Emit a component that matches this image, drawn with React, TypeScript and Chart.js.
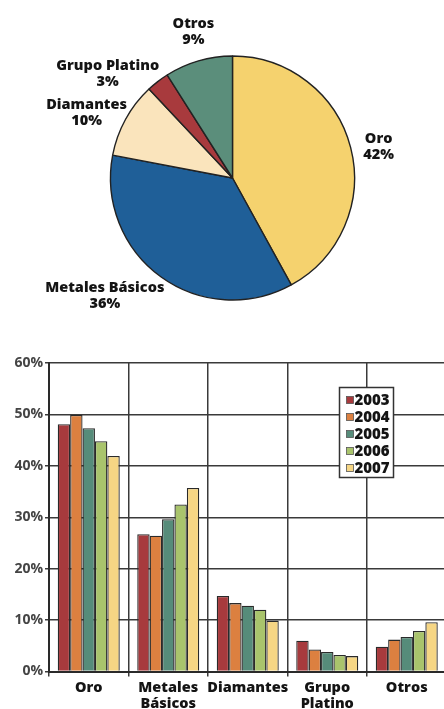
import { useEffect, useRef } from 'react';
import { Chart, registerables } from 'chart.js';

Chart.register(...registerables);

// Sector shares (%), pie
const sectorNames = ['Oro', 'Metales Básicos', 'Diamantes', 'Grupo Platino', 'Otros'];
const sectorShares = [42, 36, 10, 3, 9];
const sectorColors = ['#F5D26E', '#1F5F98', '#FAE4BC', '#A83A3D', '#5B8E7B'];

// Sector shares by year (%), grouped bars
const barCategories = [['Oro'], ['Metales', 'Básicos'], ['Diamantes'], ['Grupo', 'Platino'], ['Otros']];
const years = ['2003', '2004', '2005', '2006', '2007'];
const share2003 = [48.1, 26.7, 14.7, 6.0, 4.8];
const share2004 = [49.9, 26.4, 13.3, 4.3, 6.2];
const share2005 = [47.3, 29.6, 12.8, 3.8, 6.7];
const share2006 = [44.8, 32.5, 12.0, 3.2, 7.9];
const share2007 = [41.9, 35.7, 9.9, 3.0, 9.6];
const yearColors = ['#A73A3D', '#DC8040', '#568C7A', '#A9C46C', '#F6D684'];
const yMax = 60;
const yStep = 10;

const FONT = '"Open Sans", "DejaVu Sans", sans-serif';
const INK = '#141414';
const GRID = '#3a3a3a';

// label centre offsets from the outer midpoint of each slice
const pieLabelNudges: [number, number][] = [
  [28, -1],
  [-56, 19],
  [-39, -6],
  [-50, -8],
  [-5, -29],
];

const pieLabels = {
  id: 'pieLabels',
  afterDatasetsDraw(chart: any) {
    const ctx = chart.ctx;
    const meta = chart.getDatasetMeta(0);
    const values = chart.data.datasets[0].data;
    ctx.save();
    ctx.font = `800 14.5px ${FONT}`;
    ctx.fillStyle = INK;
    ctx.textAlign = 'center';
    ctx.textBaseline = 'middle';
    meta.data.forEach((arc: any, i: number) => {
      const { x, y, startAngle, endAngle, outerRadius } = arc.getProps(
        ['x', 'y', 'startAngle', 'endAngle', 'outerRadius'],
        true
      );
      const mid = (startAngle + endAngle) / 2;
      const ex = x + Math.cos(mid) * outerRadius;
      const ey = y + Math.sin(mid) * outerRadius;
      const [dx, dy] = pieLabelNudges[i];
      ctx.fillText(chart.data.labels[i], ex + dx, ey + dy - 8);
      ctx.fillText(`${values[i]}%`, ex + dx, ey + dy + 8);
    });
    ctx.restore();
  },
};

const yearLegend = {
  id: 'yearLegend',
  afterDatasetsDraw(chart: any) {
    const { ctx, chartArea } = chart;
    const left = chartArea.left + 290.5;
    const top = chartArea.top + 24.5;
    const w = 54;
    const h = 90;
    ctx.save();
    ctx.fillStyle = '#ffffff';
    ctx.fillRect(left, top, w, h);
    ctx.strokeStyle = '#333333';
    ctx.lineWidth = 1.5;
    ctx.strokeRect(left, top, w, h);
    ctx.font = `800 15px ${FONT}`;
    ctx.textAlign = 'left';
    ctx.textBaseline = 'middle';
    chart.data.datasets.forEach((ds: any, i: number) => {
      const cy = top + 12.5 + i * 17;
      ctx.fillStyle = ds.backgroundColor;
      ctx.fillRect(left + 7, cy - 3.5, 7, 7);
      ctx.strokeStyle = '#555555';
      ctx.lineWidth = 0.8;
      ctx.strokeRect(left + 7, cy - 3.5, 7, 7);
      ctx.fillStyle = INK;
      ctx.fillText(ds.label, left + 15, cy + 0.5);
    });
    ctx.restore();
  },
};

export default function App() {
  const pieRef = useRef<HTMLCanvasElement>(null);
  const barRef = useRef<HTMLCanvasElement>(null);

  useEffect(() => {
    document.body.style.margin = '0';
    if (!pieRef.current || !barRef.current) return;

    const pie = new Chart(pieRef.current, {
      type: 'pie',
      data: {
        labels: sectorNames,
        datasets: [
          {
            data: sectorShares,
            backgroundColor: sectorColors,
            borderColor: '#222222',
            borderWidth: 1.4,
            radius: 122,
          },
        ],
      },
      options: {
        responsive: false,
        animation: false,
        devicePixelRatio: 1,
        layout: { padding: { left: 110, right: 89, top: 56, bottom: 30 } },
        plugins: { legend: { display: false }, tooltip: { enabled: false } },
      },
      plugins: [pieLabels],
    });

    const seriesValues = [share2003, share2004, share2005, share2006, share2007];
    const bar = new Chart(barRef.current, {
      type: 'bar',
      data: {
        labels: barCategories,
        datasets: years.map((yr, i) => ({
          label: yr,
          data: seriesValues[i],
          backgroundColor: yearColors[i],
          borderColor: '#2a2a2a',
          borderWidth: 1.3,
          categoryPercentage: 0.78,
          barPercentage: 1,
        })),
      },
      options: {
        responsive: false,
        animation: false,
        devicePixelRatio: 1,
        layout: { padding: { top: 33, right: 15.5, left: 0, bottom: 0 } },
        plugins: { legend: { display: false }, tooltip: { enabled: false } },
        scales: {
          x: {
            grid: { offset: true, color: GRID, lineWidth: 1.5, tickLength: 5 },
            border: { color: '#2a2a2a', width: 2 },
            ticks: {
              color: INK,
              padding: 4,
              maxRotation: 0,
              autoSkip: false,
              font: { family: FONT, size: 14.5, weight: '800', lineHeight: 1.08 },
            },
            afterFit: (s: any) => {
              s.height = 37.5;
            },
          },
          y: {
            min: 0,
            max: yMax,
            grid: { color: GRID, lineWidth: 1.5, tickLength: 4 },
            border: { color: '#2a2a2a', width: 2 },
            ticks: {
              stepSize: yStep,
              color: '#444444',
              padding: 2,
              font: { family: FONT, size: 14, weight: 'bold' },
              callback: (v: any) => `${v}%`,
            },
            afterFit: (s: any) => {
              s.width = 49;
            },
          },
        },
      },
      plugins: [yearLegend],
    });

    return () => {
      pie.destroy();
      bar.destroy();
    };
  }, []);

  return (
    <div style={{ width: 444, height: 709, overflow: 'hidden', background: '#ffffff' }}>
      <canvas ref={pieRef} width={444} height={330} style={{ display: 'block' }} />
      <div style={{ width: 444, height: 379, overflow: 'hidden' }}>
        <canvas ref={barRef} width={462} height={379} style={{ display: 'block' }} />
      </div>
    </div>
  );
}
